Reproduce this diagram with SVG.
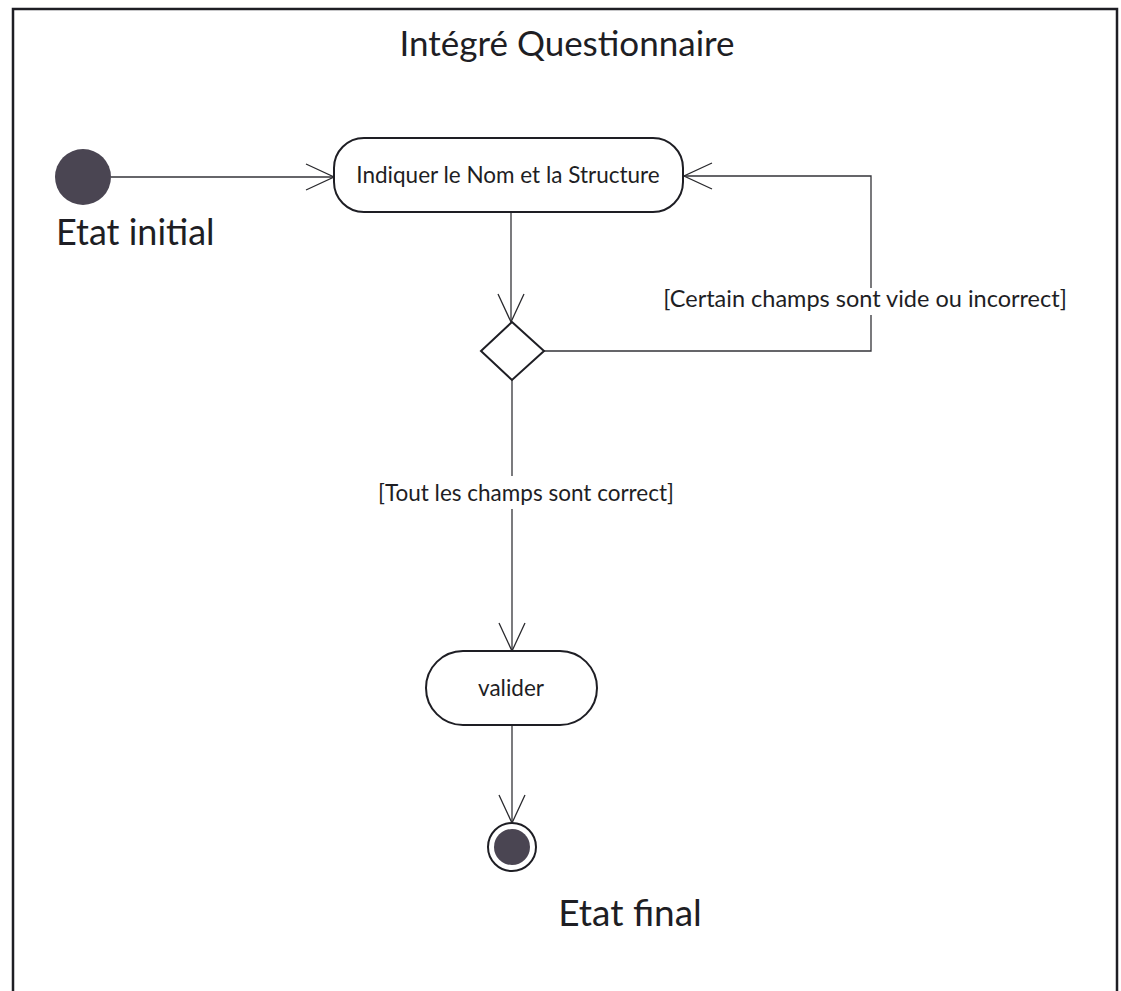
<svg xmlns="http://www.w3.org/2000/svg" width="1121" height="991" viewBox="0 0 1121 991">
  <defs>
    <marker id="open-arrow" viewBox="0 0 30 30" refX="29" refY="15" markerWidth="30" markerHeight="30" markerUnits="userSpaceOnUse" orient="auto">
      <path d="M1,2 L29,15 L1,28" fill="none" stroke="#2a2a2e" stroke-width="1.3"/>
    </marker>
  </defs>
  <style>
    .frame { fill: #ffffff; stroke: #1e1e24; stroke-width: 2.5; }
    .action { fill: #ffffff; stroke: #1e1e24; stroke-width: 2; }
    .flow { fill: none; stroke: #333338; stroke-width: 1.3; }
    .dot { fill: #4a4552; }
    .lbl { font-family: Lato, "Open Sans", sans-serif; fill: #1e1e24; }
    .gap { fill: #ffffff; }
  </style>

  <!-- diagram frame -->
  <rect class="frame" x="13" y="9" width="1104" height="1000"/>
  <text class="lbl" x="567" y="56" font-size="35" text-anchor="middle">Intégré Questionnaire</text>

  <!-- connectors -->
  <g id="connectors">
    <line class="flow" x1="111" y1="177" x2="334" y2="177" marker-end="url(#open-arrow)"/>
    <line class="flow" x1="511" y1="212" x2="511" y2="322" marker-end="url(#open-arrow)"/>
    <polyline class="flow" points="544,351 871,351 871,176 684,176" marker-end="url(#open-arrow)"/>
    <line class="flow" x1="512" y1="380" x2="512" y2="651" marker-end="url(#open-arrow)"/>
    <line class="flow" x1="512" y1="725" x2="512" y2="823" marker-end="url(#open-arrow)"/>
    <!-- guard labels -->
    <rect class="gap" x="660" y="288" width="412" height="27"/>
    <text class="lbl" x="865" y="307" font-size="23.5" text-anchor="middle">[Certain champs sont vide ou incorrect]</text>
    <rect class="gap" x="376" y="476" width="300" height="33"/>
    <text class="lbl" x="526" y="501" font-size="22.5" text-anchor="middle">[Tout les champs sont correct]</text>
  </g>

  <g id="initial">
    <circle class="dot" cx="83" cy="177" r="28"/>
    <text class="lbl" x="56" y="245" font-size="36">Etat initial</text>
  </g>

  <g id="indiquer">
    <rect class="action" x="334" y="138" width="349" height="74" rx="30" ry="30"/>
    <text class="lbl" x="508" y="183" font-size="22.5" text-anchor="middle">Indiquer le Nom et la Structure</text>
  </g>

  <g id="decision">
    <polygon class="action" points="512,322 544,351 512,380 481,351"/>
  </g>

  <g id="valider">
    <rect class="action" x="426" y="651" width="171" height="74" rx="37" ry="37"/>
    <text class="lbl" x="511" y="696" font-size="22.5" text-anchor="middle">valider</text>
  </g>

  <g id="final">
    <circle cx="512" cy="847" r="24" fill="#ffffff" stroke="#1e1e24" stroke-width="2"/>
    <circle class="dot" cx="512" cy="847" r="18"/>
    <text class="lbl" x="630" y="926" font-size="37" text-anchor="middle">Etat final</text>
  </g>
</svg>
